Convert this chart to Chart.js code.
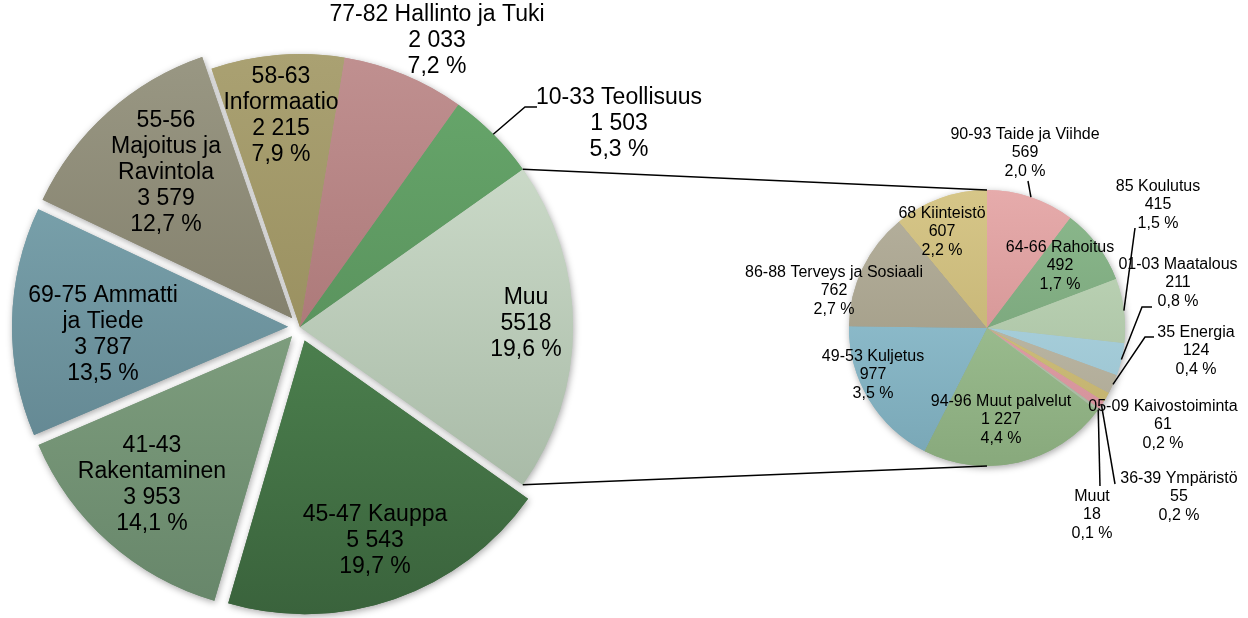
<!DOCTYPE html>
<html>
<head>
<meta charset="utf-8">
<script src="https://cdn.jsdelivr.net/npm/chart.js@4.4.1/dist/chart.umd.min.js"></script>
<style>
    html, body { margin: 0; padding: 0; background: #fff; }
    #wrap { position: relative; width: 1248px; height: 618px; }
    #wrap canvas { position: absolute; left: 0; top: 0; }
</style>
</head>
<body>
<div id="wrap">
    <canvas id="mainPie" width="1248" height="618"></canvas>
    <canvas id="subPie" width="1248" height="618"></canvas>
</div>
<script>
// Pääympyrä (Muu = pienten toimialojen summa)
const mainLabels = ['Muu', '45-47 Kauppa', '41-43\nRakentaminen', '69-75 Ammatti\nja Tiede',
    '55-56\nMajoitus ja\nRavintola', '58-63\nInformaatio', '77-82 Hallinto ja Tuki', '10-33 Teollisuus'];
const mainValues = [5518, 5543, 3953, 3787, 3579, 2215, 2033, 1503];

// Muu-osuuden erittely
const subLabels = ['90-93 Taide ja Viihde', '64-66 Rahoitus', '85 Koulutus', '01-03 Maatalous',
    '35 Energia', '05-09 Kaivostoiminta', '36-39 Ympäristö', 'Muut', '94-96 Muut palvelut',
    '49-53 Kuljetus', '86-88 Terveys ja Sosiaali', '68 Kiinteistö'];
const subValues = [569, 492, 415, 211, 124, 61, 55, 18, 1227, 977, 762, 607];

const grandTotal = mainValues.reduce((a, b) => a + b, 0);

// tyylit
const FONT = '"Liberation Sans", Arial, sans-serif';
const mainColors = [
    ['#d6e4d3', '#9db09c'], ['#5c9a5e', '#3a633c'], ['#93b390', '#67866a'], ['#84aeb8', '#587a85'],
    ['#9a9884', '#6f6b58'], ['#aaa172', '#8b8150'], ['#c09090', '#9a6464'], ['#68a86c', '#4d8050']
];
const mainExplode = [0, 15, 15, 15, 15, 0, 0, 0]; // px
const mainLabelPos = [[526, 324], [375, 541], [152, 485], [103, 335], [166, 173], [281, 116], [437, 41], [619, 124]];
const mainLeaders = { 7: [[525, 107], [537, 107]] };

const subColors = [
    ['#e6abab', '#c98787'], ['#8cb98d', '#6f9a71'], ['#c3dabc', '#a1b99b'], ['#b4dae6', '#96bfcc'],
    ['#c8c4b2', '#aaa591'], ['#d8c988', '#bfae6a'], ['#eaa8b0', '#d08f97'], ['#c0cfb8', '#a3b49c'],
    ['#aacc9e', '#88a97c'], ['#9ccbdb', '#78a6b5'], ['#b6b19e', '#99937c'], ['#d6c688', '#bcaa6a']
];
const subLabelPos = [[1025, 153], [1060, 266], [1158, 205], [1178, 283], [1196, 351], [1163, 425],
    [1179, 497], [1092, 515], [1001, 420], [873, 375], [834, 291], [942, 232]];
const subLeaders = {
    0: [[1028, 181]],
    2: [[1135, 228]],
    3: [[1142, 307], [1152, 307]],
    4: [[1145, 337], [1154, 337]],
    6: [[1115, 484]],
    7: [[1100, 486]]
};

function fmtNum(v) {
    return String(v).replace(/\B(?=(\d{3})+(?!\d))/g, ' ');
}
function fmtPct(v) {
    return (v / grandTotal * 100).toFixed(1).replace('.', ',') + ' %';
}

function gradient(colors) {
    return (c) => {
        const pair = colors[c.dataIndex];
        const area = c.chart.chartArea;
        if (!area) return pair[0];
        const g = c.chart.ctx.createLinearGradient(0, area.top, 0, area.bottom);
        g.addColorStop(0, pair[0]);
        g.addColorStop(1, pair[1]);
        return g;
    };
}

// Chart.js siirtää sektoria offset/4 * (1 + fix) pikseliä, muunnetaan pikseleistä
function explodeOffset(px) {
    return (c) => {
        const want = px[c.dataIndex];
        if (!want) return 0;
        const vals = c.chart.data.datasets[0].data;
        const tot = vals.reduce((a, b) => a + b, 0);
        const circ = vals[c.dataIndex] / tot * 2 * Math.PI;
        const fix = 1 - Math.sin(Math.min(Math.PI, circ));
        return want * 4 / (1 + fix);
    };
}

// varjo piirretään erikseen ennen sektoreita
const shadowPlugin = {
    id: 'shadow',
    beforeDatasetsDraw(chart) {
        const ctx = chart.ctx;
        ctx.save();
        ctx.shadowColor = 'rgba(0,0,0,0.35)';
        ctx.shadowBlur = 7;
        ctx.shadowOffsetX = 1;
        ctx.shadowOffsetY = 2;
        chart.getDatasetMeta(0).data.forEach(a => a.draw(ctx));
        ctx.restore();
    }
};

function drawLabels(chart, names, values, positions, leaders, size, lh, rawFirst) {
    const ctx = chart.ctx;
    const arcs = chart.getDatasetMeta(0).data;
    ctx.save();
    ctx.strokeStyle = '#000';
    ctx.lineWidth = 1.5;
    Object.keys(leaders).forEach(k => {
        const a = arcs[k];
        const mid = (a.startAngle + a.endAngle) / 2;
        const r = a.outerRadius;
        ctx.beginPath();
        ctx.moveTo(a.x + Math.cos(mid) * r, a.y + Math.sin(mid) * r);
        leaders[k].forEach(p => ctx.lineTo(p[0], p[1]));
        ctx.stroke();
    });
    ctx.fillStyle = '#000';
    ctx.font = size + 'px ' + FONT;
    ctx.textAlign = 'center';
    ctx.textBaseline = 'middle';
    names.forEach((name, i) => {
        const valTxt = (rawFirst && i === 0) ? String(values[i]) : fmtNum(values[i]);
        const lines = name.split('\n').concat([valTxt, fmtPct(values[i])]);
        const [x, y] = positions[i];
        const y0 = y - (lines.length - 1) * lh / 2;
        lines.forEach((t, j) => ctx.fillText(t, x, y0 + j * lh));
    });
    ctx.restore();
}

const mainChart = new Chart(document.getElementById('mainPie'), {
    type: 'pie',
    data: {
        labels: mainLabels,
        datasets: [{
            data: mainValues,
            backgroundColor: gradient(mainColors),
            borderWidth: 0,
            offset: explodeOffset(mainExplode),
            radius: 273
        }]
    },
    options: {
        responsive: false,
        animation: false,
        events: [],
        // Muu-sektori keskitetään oikealle
        rotation: 90 - 180 * mainValues[0] / grandTotal,
        layout: { padding: { left: 27, right: 675, top: 54, bottom: 18 } },
        plugins: { legend: { display: false }, tooltip: { enabled: false } }
    },
    plugins: [shadowPlugin, {
        id: 'mainLabels',
        afterDatasetsDraw(chart) {
            drawLabels(chart, mainLabels, mainValues, mainLabelPos, mainLeaders, 23, 26, true);
        }
    }]
});

new Chart(document.getElementById('subPie'), {
    type: 'pie',
    data: {
        labels: subLabels,
        datasets: [{
            data: subValues,
            backgroundColor: gradient(subColors),
            borderWidth: 0,
            radius: 138
        }]
    },
    options: {
        responsive: false,
        animation: false,
        events: [],
        layout: { padding: { left: 849, right: 123, top: 190, bottom: 152 } },
        plugins: { legend: { display: false }, tooltip: { enabled: false } }
    },
    plugins: [shadowPlugin, {
        id: 'subLabels',
        afterDatasetsDraw(chart) {
            // yhdysviivat Muu-sektorista pieneen ympyrään
            const m = mainChart.getDatasetMeta(0).data[0];
            const s = chart.getDatasetMeta(0).data[0];
            const ctx = chart.ctx;
            ctx.save();
            ctx.strokeStyle = '#000';
            ctx.lineWidth = 1.5;
            ctx.beginPath();
            ctx.moveTo(m.x + Math.cos(m.startAngle) * m.outerRadius, m.y + Math.sin(m.startAngle) * m.outerRadius);
            ctx.lineTo(s.x, s.y - s.outerRadius);
            ctx.moveTo(m.x + Math.cos(m.endAngle) * m.outerRadius, m.y + Math.sin(m.endAngle) * m.outerRadius);
            ctx.lineTo(s.x, s.y + s.outerRadius);
            ctx.stroke();
            ctx.restore();
            drawLabels(chart, subLabels, subValues, subLabelPos, subLeaders, 16, 18.5, false);
        }
    }]
});
</script>
</body>
</html>
